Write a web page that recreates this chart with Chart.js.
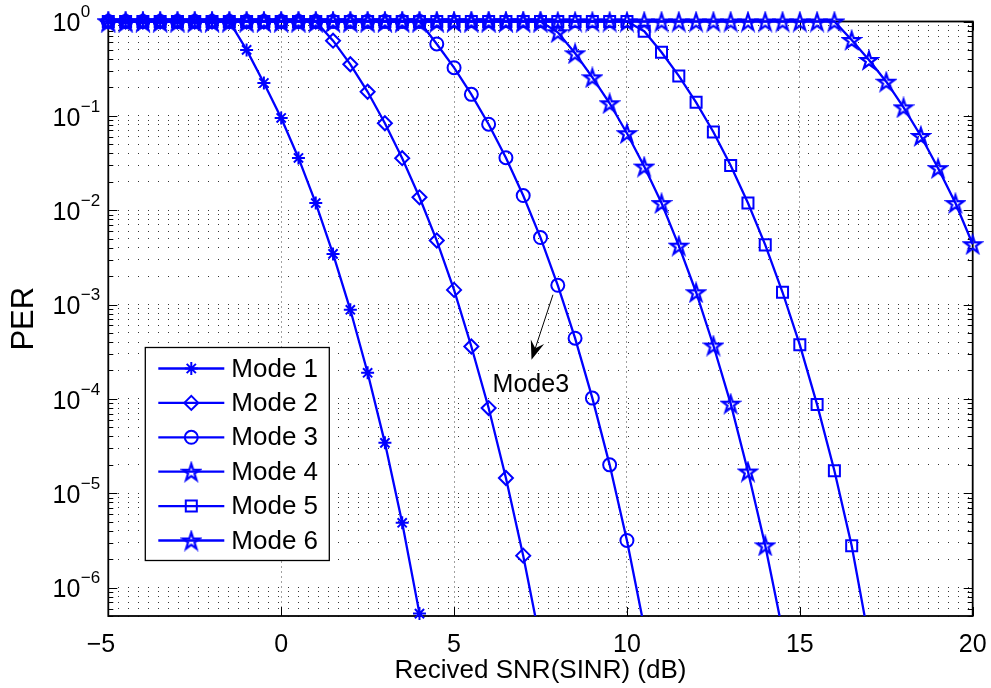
<!DOCTYPE html>
<html>
<head>
<meta charset="utf-8">
<title>PER vs received SNR</title>
<script src="https://cdn.jsdelivr.net/npm/chart.js@4.4.1/dist/chart.umd.min.js"></script>
<style>
  html, body { margin: 0; padding: 0; background: #fff; }
  #wrap { width: 991px; height: 688px; }
</style>
</head>
<body>
<div id="wrap"><canvas id="per-chart" width="991" height="688"></canvas></div>
<script>
// received SNR (dB), one sample every 0.5 dB
var snr = [-5, -4.5, -4, -3.5, -3, -2.5, -2, -1.5, -1, -0.5, 0, 0.5, 1, 1.5, 2, 2.5, 3, 3.5, 4, 4.5,
  5, 5.5, 6, 6.5, 7, 7.5, 8, 8.5, 9, 9.5, 10, 10.5, 11, 11.5, 12, 12.5, 13, 13.5, 14, 14.5,
  15, 15.5, 16, 16.5, 17, 17.5, 18, 18.5, 19, 19.5, 20];

// packet error rate of each mode, listed from -5 dB onwards
var perMode1 = [1, 1, 1, 1, 1, 1, 1, 1, 0.5, 0.223, 0.095, 0.0358, 0.0119, 0.00344, 8.8e-4,
  1.89e-4, 3.42e-5, 4.86e-6, 5.3e-7];
var perMode2 = [1, 1, 1, 1, 1, 1, 1, 1, 1, 1, 1, 1, 1, 0.626, 0.352, 0.18, 0.0835, 0.0356,
  0.0137, 0.00477, 0.00143, 3.59e-4, 8.0e-5, 1.45e-5, 2.18e-6, 2.6e-7];
var perMode3 = [1, 1, 1, 1, 1, 1, 1, 1, 1, 1, 1, 1, 1, 1, 1, 1, 1, 1, 1, 0.578, 0.324, 0.169,
  0.0815, 0.036, 0.0143, 0.00513, 0.0016, 4.4e-4, 1.02e-4, 2.0e-5, 3.16e-6, 3.8e-7];
var perMode4 = [1, 1, 1, 1, 1, 1, 1, 1, 1, 1, 1, 1, 1, 1, 1, 1, 1, 1, 1, 1, 1, 1, 1, 1, 1, 1,
  0.769, 0.46, 0.256, 0.136, 0.0654, 0.029, 0.0119, 0.00421, 0.00135, 3.68e-4, 8.9e-5, 1.7e-5,
  2.8e-6, 3.5e-7];
var perMode5 = [1, 1, 1, 1, 1, 1, 1, 1, 1, 1, 1, 1, 1, 1, 1, 1, 1, 1, 1, 1, 1, 1, 1, 1, 1, 1,
  1, 1, 1, 1, 1, 0.79, 0.472, 0.265, 0.139, 0.0675, 0.0297, 0.0119, 0.00429, 0.00135, 3.74e-4,
  8.7e-5, 1.73e-5, 2.78e-6, 2.8e-7];
var perMode6 = [1, 1, 1, 1, 1, 1, 1, 1, 1, 1, 1, 1, 1, 1, 1, 1, 1, 1, 1, 1, 1, 1, 1, 1, 1, 1,
  1, 1, 1, 1, 1, 1, 1, 1, 1, 1, 1, 1, 1, 1, 1, 1, 1, 0.637, 0.391, 0.23, 0.123, 0.0612, 0.0279,
  0.0119, 0.00436];

var modeNames = ["Mode 1", "Mode 2", "Mode 3", "Mode 4", "Mode 5", "Mode 6"];
var perModes = [perMode1, perMode2, perMode3, perMode4, perMode5, perMode6];

// axis ticks
var xTickValues = [-5, 0, 5, 10, 15, 20];
var yDecadeExponents = [0, -1, -2, -3, -4, -5, -6];
var yMinorSteps = [1, 2, 3, 4, 5, 6, 7, 8, 9];

var FONT = '"Liberation Sans", Arial, Helvetica, sans-serif';
var BLUE = "#0000ff";
var Y_MIN = 5e-7, Y_MAX = 1;

// MATLAB-style pentagram marker
function pentagram(size, lw) {
  var c = document.createElement("canvas");
  c.width = size; c.height = size;
  var g = c.getContext("2d");
  var r = size / 2 - lw, ri = r * 0.382, cx = size / 2, cy = size / 2 + r * 0.1;
  g.beginPath();
  for (var k = 0; k < 10; k++) {
    var ang = -Math.PI / 2 + k * Math.PI / 5;
    var rr = k % 2 ? ri : r;
    g.lineTo(cx + rr * Math.cos(ang), cy + rr * Math.sin(ang));
  }
  g.closePath();
  g.strokeStyle = BLUE;
  g.lineWidth = lw;
  g.stroke();
  return c;
}
var star5 = pentagram(22, 2.2);

var markerStyles = [
  { style: "star", radius: 6.5 },
  { style: "rectRot", radius: 7 },
  { style: "circle", radius: 6.5 },
  { style: star5, radius: 8 },
  { style: "rect", radius: 7.8 },
  { style: star5, radius: 8 }
];

// grid positions: every 1..9 x 10^n inside the axis range
var yGridValues = [];
yDecadeExponents.concat([-7]).forEach(function (e) {
  yMinorSteps.forEach(function (m) {
    var v = m * Math.pow(10, e);
    if (v >= Y_MIN * 0.999 && v <= Y_MAX * 1.001) yGridValues.push(v);
  });
});

var datasets = perModes.map(function (vals, i) {
  return {
    label: modeNames[i],
    data: vals.map(function (v, k) { return { x: snr[k], y: v }; }),
    borderColor: BLUE,
    borderWidth: 2.3,
    pointStyle: markerStyles[i].style,
    pointRadius: markerStyles[i].radius,
    pointBorderWidth: 2,
    pointBorderColor: BLUE,
    pointBackgroundColor: "rgba(0,0,0,0)",
    tension: 0,
    fill: false,
    clip: { left: 12, top: 12, right: 12, bottom: i === 0 ? 10 : 0 }
  };
});

function isDecade(v) {
  var l = Math.log10(v);
  return Math.abs(l - Math.round(l)) < 1e-6;
}

var axesPlugin = {
  id: "matlabAxes",
  beforeDatasetsDraw: function (chart) {
    var a = chart.chartArea, ctx = chart.ctx;
    var xs = chart.scales.x, ys = chart.scales.y;
    ctx.save();
    // inward tick marks on every side of the box
    ctx.strokeStyle = "#000";
    ctx.lineWidth = 1;
    ctx.beginPath();
    ys.ticks.forEach(function (t) {
      var y = Math.round(ys.getPixelForValue(t.value)) + 0.5;
      var len = isDecade(t.value) ? 9 : 5;
      ctx.moveTo(a.left, y); ctx.lineTo(a.left + len, y);
      ctx.moveTo(a.right, y); ctx.lineTo(a.right - len, y);
    });
    xs.ticks.forEach(function (t) {
      var x = Math.round(xs.getPixelForValue(t.value)) + 0.5;
      ctx.moveTo(x, a.bottom); ctx.lineTo(x, a.bottom - 9);
      ctx.moveTo(x, a.top); ctx.lineTo(x, a.top + 9);
    });
    ctx.stroke();
    ctx.lineWidth = 1.8;
    ctx.strokeRect(a.left, a.top, a.right - a.left, a.bottom - a.top);
    ctx.restore();
  },
  afterDraw: function (chart) {
    var a = chart.chartArea, ctx = chart.ctx;
    var xs = chart.scales.x, ys = chart.scales.y;
    ctx.save();
    ctx.fillStyle = "#000";

    // y tick labels as 10 with a raised exponent
    yDecadeExponents.forEach(function (e) {
      var y = ys.getPixelForValue(Math.pow(10, e));
      ctx.font = "25px " + FONT;
      ctx.textAlign = "right";
      ctx.textBaseline = "middle";
      ctx.fillText("10", a.left - 28, y + 3);
      ctx.font = "17px " + FONT;
      ctx.textAlign = "left";
      ctx.fillText(e < 0 ? "\u2212" + Math.abs(e) : String(e), a.left - 27.5, y - 9);
    });

    // x tick labels, digits centred on the tick
    ctx.font = "25px " + FONT;
    ctx.textBaseline = "middle";
    ctx.textAlign = "right";
    xTickValues.forEach(function (v) {
      var x = xs.getPixelForValue(v);
      var digits = String(Math.abs(v));
      var w = ctx.measureText(digits).width;
      ctx.fillText(v < 0 ? "\u2212" + digits : digits, x + w / 2, a.bottom + 29);
    });

    // arrow pointing at the Mode 3 curve
    var x1 = xs.getPixelForValue(7.86), y1 = ys.getPixelForValue(1.27e-3);
    var x2 = xs.getPixelForValue(7.24), y2 = ys.getPixelForValue(2.6e-4);
    var dx = x2 - x1, dy = y2 - y1, len = Math.sqrt(dx * dx + dy * dy);
    var ux = dx / len, uy = dy / len, px = -uy, py = ux;
    var headLen = 19, headHalf = 7;
    ctx.strokeStyle = "#000";
    ctx.lineWidth = 1;
    ctx.beginPath();
    ctx.moveTo(x1, y1);
    ctx.lineTo(x2 - ux * 12, y2 - uy * 12);
    ctx.stroke();
    ctx.beginPath();
    ctx.moveTo(x2, y2);
    ctx.lineTo(x2 - ux * headLen + px * headHalf, y2 - uy * headLen + py * headHalf);
    ctx.lineTo(x2 - ux * 12, y2 - uy * 12);
    ctx.lineTo(x2 - ux * headLen - px * headHalf, y2 - uy * headLen - py * headHalf);
    ctx.closePath();
    ctx.fill();

    ctx.font = "25px " + FONT;
    ctx.textAlign = "center";
    ctx.textBaseline = "middle";
    ctx.fillText("Mode3", xs.getPixelForValue(7.22), ys.getPixelForValue(1.4e-4));

    // legend box inside the axes
    var lx = a.left + 37, ly = a.top + 326, lw = 184, lh = 213;
    ctx.fillStyle = "#fff";
    ctx.fillRect(lx, ly, lw, lh);
    ctx.strokeStyle = "#000";
    ctx.lineWidth = 1.3;
    ctx.strokeRect(lx, ly, lw, lh);
    chart.data.datasets.forEach(function (ds, i) {
      var y = ly + 21 + i * 34.4;
      ctx.strokeStyle = BLUE;
      ctx.lineWidth = 2.3;
      ctx.beginPath();
      ctx.moveTo(lx + 13, y);
      ctx.lineTo(lx + 79, y);
      ctx.stroke();
      ctx.lineWidth = ds.pointBorderWidth;
      ctx.fillStyle = "rgba(0,0,0,0)";
      Chart.helpers.drawPoint(ctx, {
        pointStyle: ds.pointStyle, radius: ds.pointRadius,
        borderWidth: ds.pointBorderWidth, rotation: 0
      }, lx + 46, y);
      ctx.fillStyle = "#000";
      ctx.font = "26px " + FONT;
      ctx.textAlign = "left";
      ctx.textBaseline = "middle";
      ctx.fillText(ds.label, lx + 86, y + 1);
    });
    ctx.restore();
  }
};

new Chart(document.getElementById("per-chart"), {
  type: "line",
  data: { datasets: datasets },
  plugins: [axesPlugin],
  options: {
    responsive: false,
    devicePixelRatio: 1,
    animation: false,
    events: [],
    layout: { padding: { top: 21.5, right: 18.3, bottom: 0, left: 0 } },
    plugins: {
      legend: { display: false },
      tooltip: { enabled: false }
    },
    scales: {
      x: {
        type: "linear",
        min: -5,
        max: 20,
        afterBuildTicks: function (s) {
          s.ticks = xTickValues.map(function (v) { return { value: v }; });
        },
        afterFit: function (s) { s.height = 72; },
        ticks: { display: false },
        grid: { color: "rgba(0,0,0,0.75)", lineWidth: 1, drawTicks: false },
        border: { display: false, dash: [1, 4] },
        title: {
          display: true,
          text: "Recived SNR(SINR) (dB)",
          color: "#000",
          font: { family: FONT, size: 26 },
          padding: { top: 0, bottom: 2 }
        }
      },
      y: {
        type: "logarithmic",
        min: Y_MIN,
        max: Y_MAX,
        afterBuildTicks: function (s) {
          s.ticks = yGridValues.map(function (v) { return { value: v }; });
        },
        afterFit: function (s) { s.width = 108.3; },
        ticks: { display: false },
        grid: { color: "rgba(0,0,0,0.8)", lineWidth: 1, drawTicks: false },
        border: { display: false, dash: [1, 9] },
        title: {
          display: true,
          text: "PER",
          color: "#000",
          font: { family: FONT, size: 31 },
          padding: { top: 6, bottom: 0 }
        }
      }
    }
  }
});
</script>
</body>
</html>
